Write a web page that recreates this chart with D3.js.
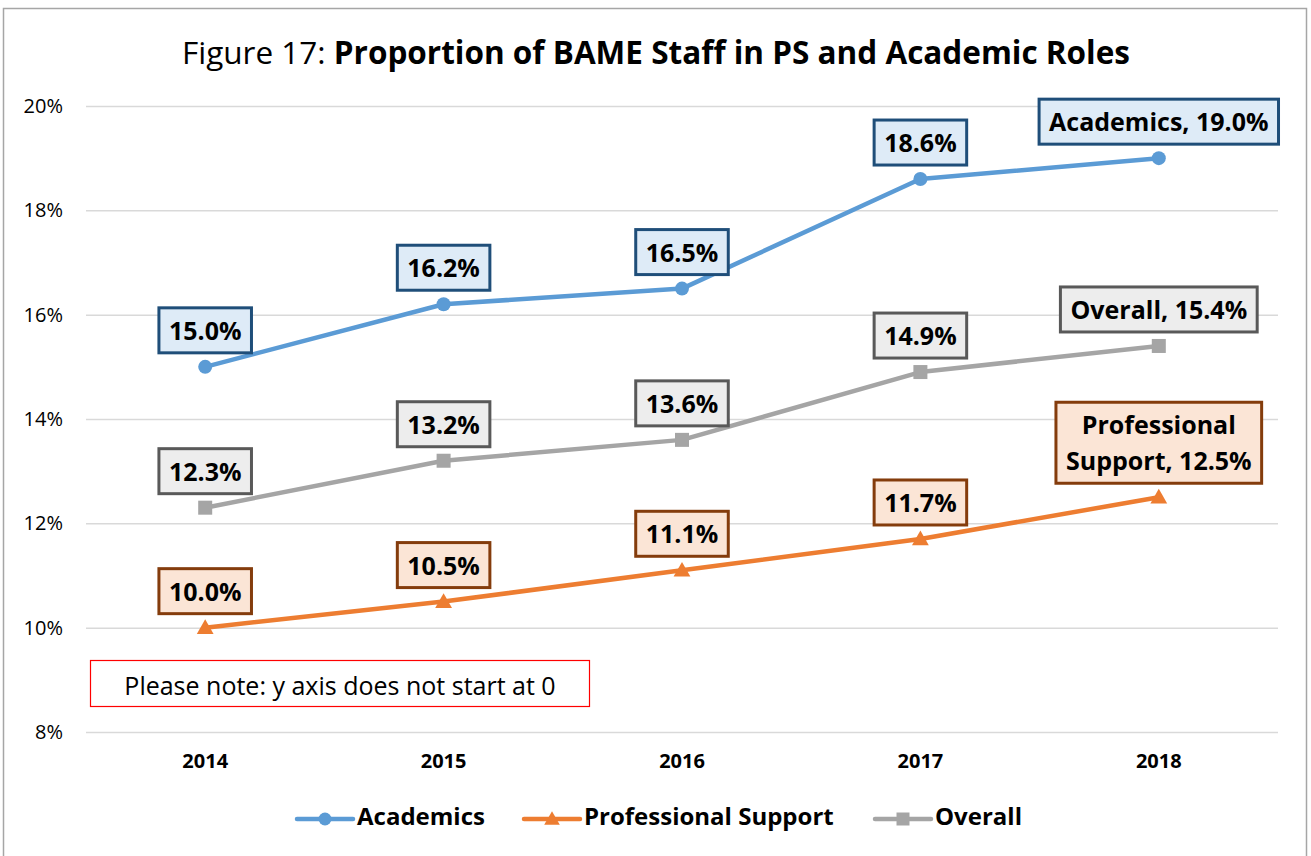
<!DOCTYPE html>
<html lang="en">
<head>
  <meta charset="UTF-8">
  <title>Figure 17</title>
  <script src="https://d3js.org/d3.v7.min.js"></script>
  <style>
    * { margin: 0; padding: 0; box-sizing: border-box; }
    body { background: #fff; font-family: "Open Sans", "Noto Sans", sans-serif; }
  </style>
</head>
<body>
  <div id="chart"></div>
  <script>
    const years = ["2014", "2015", "2016", "2017", "2018"];
    const academics = [15.0, 16.2, 16.5, 18.6, 19.0];
    const professional = [10.0, 10.5, 11.1, 11.7, 12.5];
    const overall = [12.3, 13.2, 13.6, 14.9, 15.4];
    const yTicks = [8, 10, 12, 14, 16, 18, 20];

    const series = [
      {name: "Academics", values: academics, color: "#5b9bd5", marker: "circle",
       fill: "#deebf7", border: "#1f4e79", lastLabel: ["Academics, 19.0%"]},
      {name: "Professional Support", values: professional, color: "#ed7d31", marker: "triangle",
       fill: "#fbe5d6", border: "#843c0c", lastLabel: ["Professional", "Support, 12.5%"]},
      {name: "Overall", values: overall, color: "#a5a5a5", marker: "square",
       fill: "#ededed", border: "#595959", lastLabel: ["Overall, 15.4%"]}
    ];

    const W = 1311, H = 856;
    const plot = {left: 86, right: 1278, top: 106, bottom: 732};

    const svg = d3.select("#chart").append("svg")
      .attr("width", W).attr("height", H);

    // outer chart frame
    svg.append("rect")
      .attr("x", 3.5).attr("y", 8.5)
      .attr("width", 1303).attr("height", 860)
      .attr("fill", "#fff")
      .attr("stroke", "#a6a6a6")
      .attr("stroke-width", 1.5);

    const x = d3.scaleBand().domain(years).range([plot.left, plot.right]);
    const xc = d => x(d) + x.bandwidth() / 2;
    const y = d3.scaleLinear().domain([8, 20]).range([plot.bottom, plot.top]);

    // title
    const title = svg.append("text")
      .attr("x", 656).attr("y", 64)
      .attr("text-anchor", "middle")
      .style("font-size", "31.5px")
      .attr("fill", "#000");
    title.append("tspan").text("Figure 17: ");
    title.append("tspan").style("font-weight", "bold")
      .text("Proportion of BAME Staff in PS and Academic Roles");

    // gridlines + y labels
    const yAxis = svg.append("g")
      .attr("transform", `translate(${plot.left},0)`)
      .call(d3.axisLeft(y).tickValues(yTicks)
        .tickSize(-(plot.right - plot.left))
        .tickPadding(23)
        .tickFormat(d => d + "%"));
    yAxis.select(".domain").remove();
    yAxis.selectAll("line").attr("stroke", "#d9d9d9").attr("stroke-width", 1.5);
    yAxis.selectAll("text")
      .style("font-family", "'Open Sans', sans-serif")
      .style("font-size", "20px")
      .attr("fill", "#000");

    // x labels
    const xAxis = svg.append("g")
      .attr("transform", `translate(0,${plot.bottom})`)
      .call(d3.axisBottom(x).tickSize(0).tickPadding(22));
    xAxis.select(".domain").remove();
    xAxis.selectAll("text")
      .style("font-family", "'Open Sans', sans-serif")
      .style("font-size", "20px")
      .style("font-weight", "bold")
      .attr("fill", "#000");

    // note box
    svg.append("rect")
      .attr("x", 90.5).attr("y", 660.5)
      .attr("width", 499).attr("height", 46)
      .attr("fill", "#fff")
      .attr("stroke", "#ff0000")
      .attr("stroke-width", 1.2);
    svg.append("text")
      .attr("x", 340).attr("y", 688)
      .attr("text-anchor", "middle")
      .attr("dominant-baseline", "middle")
      .style("font-size", "25px")
      .text("Please note: y axis does not start at 0");

    function drawMarker(g, type, cx, cy, color, s) {
      if (type === "circle") {
        g.append("circle").attr("cx", cx).attr("cy", cy).attr("r", s * 0.5).attr("fill", color);
      } else if (type === "square") {
        g.append("rect").attr("x", cx - s / 2).attr("y", cy - s / 2)
          .attr("width", s).attr("height", s).attr("fill", color);
      } else {
        g.append("path")
          .attr("d", `M${cx},${cy - s * 0.6}L${cx + s * 0.6},${cy + s * 0.45}L${cx - s * 0.6},${cy + s * 0.45}Z`)
          .attr("fill", color);
      }
    }

    const line = d3.line().x(d => xc(d.year)).y(d => y(d.value));

    series.forEach(s => {
      const pts = years.map((yr, i) => ({year: yr, value: s.values[i]}));
      const g = svg.append("g");
      g.append("path")
        .datum(pts)
        .attr("d", line)
        .attr("fill", "none")
        .attr("stroke", s.color)
        .attr("stroke-width", 4.5)
        .attr("stroke-linejoin", "round");
      pts.forEach(p => drawMarker(g, s.marker, xc(p.year), y(p.value), s.color, 14));
    });

    // data labels
    series.forEach(s => {
      years.forEach((yr, i) => {
        const last = i === years.length - 1;
        const lines = last ? s.lastLabel : [d3.format(".1f")(s.values[i]) + "%"];
        const cx = xc(yr), py = y(s.values[i]);
        const lineH = 38;
        const g = svg.append("g");
        const rect = g.append("rect");
        const t = g.append("text")
          .attr("text-anchor", "middle")
          .style("font-size", "25px")
          .style("font-weight", "bold")
          .attr("fill", "#000");
        lines.forEach((l, j) => {
          t.append("tspan").attr("x", cx).attr("dy", j === 0 ? 0 : lineH).text(l);
        });
        const bottom = py - 14;
        const boxH = 45 + (lines.length - 1) * 36;
        const top = bottom - boxH;
        t.attr("y", top + 32);
        if (lines.length > 1) t.selectAll("tspan").filter((d, j) => j > 0).attr("dy", 36);
        const bw = t.node().getBBox().width + 20;
        rect.attr("x", cx - bw / 2).attr("y", top)
          .attr("width", bw).attr("height", boxH)
          .attr("fill", s.fill)
          .attr("stroke", s.border)
          .attr("stroke-width", 3);
      });
    });

    // legend
    const legendItems = [
      {s: series[0], x: 297},
      {s: series[1], x: 524},
      {s: series[2], x: 875}
    ];
    legendItems.forEach(({s, x: lx}) => {
      const g = svg.append("g");
      g.append("line")
        .attr("x1", lx).attr("x2", lx + 56)
        .attr("y1", 819).attr("y2", 819)
        .attr("stroke", s.color).attr("stroke-width", 4.5)
        .attr("stroke-linecap", "round");
      drawMarker(g, s.marker, lx + 28, 819, s.color, 13);
      g.append("text")
        .attr("x", lx + 60).attr("y", 819)
        .attr("dominant-baseline", "middle")
        .style("font-size", "24px")
        .style("font-weight", "bold")
        .text(s.name);
    });
  </script>
</body>
</html>
